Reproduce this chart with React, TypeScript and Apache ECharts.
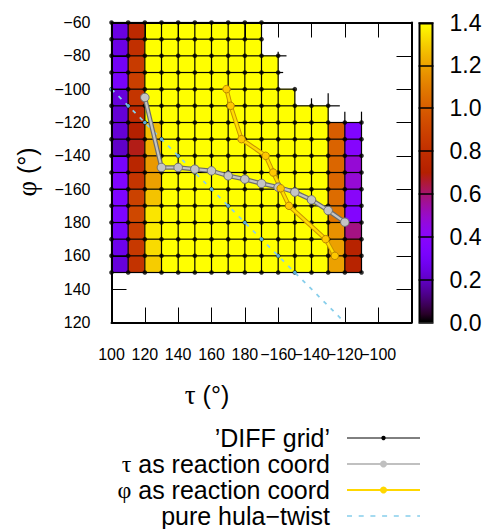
import { useEffect, useRef } from 'react';
import * as echarts from 'echarts';

const FONT = "'Liberation Sans', Arial, Helvetica, sans-serif";
const GREEK = "'Liberation Serif', 'Times New Roman', serif";

// ---- axes (angles unwrapped: tau 200 = -160 deg, phi -190 = 170 deg) ----
const tauAxisMin = 100;
const tauAxisMax = 280;
const phiAxisMin = -240;
const phiAxisMax = -60;
const axisStep = 20;
const cbMin = 0;
const cbMax = 1.4;
const cbStep = 0.2;

// ---- DIFF grid nodes ----
const phiNodes = [-60, -70, -80, -90, -100, -110, -120, -130, -140, -150, -160, -170, -180, -190, -200, -210];
const tauMinNode = 100;
const tauMaxByRow = [190, 190, 200, 200, 210, 230, 250, 250, 250, 250, 250, 250, 250, 250, 250, 250];
const cellSize = 10;
// partial mesh segments toward undefined nodes [tau1, phi1, tau2, phi2]
const gridStubs = [
  [200, -80, 205, -80],
  [200, -90, 203, -90],
  [200, -80, 200, -77.5],
  [230, -110, 237, -110],
  [220, -110, 220, -105.5],
  [230, -110, 230, -102.5],
  [240, -120, 240, -113.5],
  [250, -120, 250, -113.5],
];

// ---- cell values: row i spans phiNodes[i]..phiNodes[i+1], columns tau 100,110,... ----
const cellTau = [100, 110, 120, 130, 140, 150, 160, 170, 180, 190, 200, 210, 220, 230, 240];
const cellValues = [
  [0.24, 0.76, 1.5, 1.5, 1.5, 1.5, 1.5, 1.5, 1.5],
  [0.25, 0.80, 1.5, 1.5, 1.5, 1.5, 1.5, 1.5, 1.5],
  [0.29, 0.86, 1.5, 1.5, 1.5, 1.5, 1.5, 1.5, 1.5, 1.5],
  [0.31, 0.88, 1.5, 1.5, 1.5, 1.5, 1.5, 1.5, 1.5, 1.5],
  [0.23, 0.83, 1.5, 1.5, 1.5, 1.5, 1.5, 1.5, 1.5, 1.5, 1.5],
  [0.22, 0.77, 1.5, 1.5, 1.5, 1.5, 1.5, 1.5, 1.5, 1.5, 1.5, 1.5, 1.5],
  [0.22, 0.70, 1.27, 1.5, 1.5, 1.5, 1.5, 1.5, 1.5, 1.5, 1.5, 1.5, 1.5, 1.00, 0.35],
  [0.20, 0.68, 1.24, 1.5, 1.5, 1.5, 1.5, 1.5, 1.5, 1.5, 1.5, 1.5, 1.5, 1.02, 0.38],
  [0.31, 0.74, 1.18, 1.5, 1.5, 1.5, 1.5, 1.5, 1.5, 1.5, 1.5, 1.5, 1.5, 1.03, 0.48],
  [0.35, 0.83, 1.20, 1.5, 1.5, 1.5, 1.5, 1.5, 1.5, 1.5, 1.5, 1.5, 1.5, 1.03, 0.48],
  [0.34, 0.89, 1.28, 1.5, 1.5, 1.5, 1.5, 1.5, 1.5, 1.5, 1.5, 1.5, 1.5, 1.05, 0.40],
  [0.34, 0.92, 1.35, 1.5, 1.5, 1.5, 1.5, 1.5, 1.5, 1.5, 1.5, 1.5, 1.5, 1.08, 0.37],
  [0.31, 0.88, 1.36, 1.5, 1.5, 1.5, 1.5, 1.5, 1.5, 1.5, 1.5, 1.5, 1.5, 1.16, 0.58],
  [0.26, 0.85, 1.33, 1.5, 1.5, 1.5, 1.5, 1.5, 1.5, 1.5, 1.5, 1.5, 1.5, 1.20, 0.72],
  [0.23, 0.82, 1.30, 1.5, 1.5, 1.5, 1.5, 1.5, 1.5, 1.5, 1.5, 1.5, 1.5, 1.20, 0.72],
];

// ---- paths ----
const tauPathTau = [120, 130, 140, 150, 160, 170, 180, 190, 200, 210, 220, 230, 240];
const tauPathPhi = [-105, -147, -147, -148, -149, -152, -154, -156.6, -158.8, -161.8, -166.4, -172.8, -179.8];
const phiPathTau = [169, 171.5, 178, 192.5, 197, 201.5, 206.5, 228.5, 234];
const phiPathPhi = [-100, -110, -130, -140, -150, -159.5, -170, -190, -200];
const hulaTau = [100, 110, 120, 130, 140, 150, 160, 170, 180, 190, 200, 210, 238];
const hulaPhi = [-100, -110, -120, -130, -140, -150, -160, -170, -180, -190, -200, -210, -238];
const hulaMarked = [true, true, true, true, true, true, true, true, true, true, true, true, false];

const legendLabels = ['’DIFF grid’', '{g|τ} as reaction coord', '{g|φ} as reaction coord', 'pure hula−twist'];

function palette(x: number): string {
  const t = Math.max(0, Math.min(1, x));
  const r = Math.sqrt(t);
  const g = t * t * t;
  const b = Math.max(0, Math.sin(2 * Math.PI * t));
  return `rgb(${Math.round(r * 255)},${Math.round(g * 255)},${Math.round(b * 255)})`;
}

function buildOption() {
  const cells: number[][] = [];
  cellValues.forEach((row, i) => {
    row.forEach((v, j) => cells.push([cellTau[j], phiNodes[i], v]));
  });

  const nodes: number[][] = [];
  const segments: number[][] = [];
  phiNodes.forEach((phi, i) => {
    for (let t = tauMinNode; t <= tauMaxByRow[i]; t += cellSize) {
      nodes.push([t, phi]);
      if (t + cellSize <= tauMaxByRow[i]) segments.push([t, phi, t + cellSize, phi]);
      if (i + 1 < phiNodes.length && t <= tauMaxByRow[i + 1]) segments.push([t, phi, t, phiNodes[i + 1]]);
    }
  });
  gridStubs.forEach((s) => segments.push(s));

  const stops = [];
  for (let k = 0; k <= 40; k++) stops.push({ offset: k / 40, color: palette(1 - k / 40) });

  const xFmt = (v: number) => (v >= tauAxisMax ? '' : v <= 180 ? String(v) : '−' + (360 - v));
  const yFmt = (v: number) => (v > -180 ? '−' + -v : String(v + 360));

  const frameAxis = (extra: any) => ({
    type: 'value',
    gridIndex: 0,
    interval: axisStep,
    z: 10,
    axisLine: { show: true, onZero: false, lineStyle: { color: '#000', width: 2 } },
    axisTick: { show: true, inside: true, length: 15, lineStyle: { color: '#000', width: 1 } },
    splitLine: { show: false },
    ...extra,
  });

  const lbl = { fontSize: 16, fontFamily: FONT, color: '#000' };

  const legendY = [438, 464, 490, 516];
  const legendGraphics: any[] = [];
  legendLabels.forEach((txt, i) => {
    legendGraphics.push({
      type: 'text', x: 330, y: legendY[i],
      style: { text: txt, fontSize: 25, lineHeight: 22, fontFamily: FONT, fill: '#000', align: 'right', verticalAlign: 'middle',
        rich: { g: { fontSize: 24, lineHeight: 22, fontFamily: GREEK, fill: '#000' } } },
    });
  });
  legendGraphics.push(
    { type: 'line', shape: { x1: 347, y1: legendY[0], x2: 420, y2: legendY[0] }, style: { stroke: '#000', lineWidth: 1 } },
    { type: 'circle', shape: { cx: 383.5, cy: legendY[0], r: 2.2 }, style: { fill: '#000' } },
    { type: 'line', shape: { x1: 347, y1: legendY[1], x2: 420, y2: legendY[1] }, style: { stroke: '#c0c0c0', lineWidth: 2 } },
    { type: 'circle', shape: { cx: 383.5, cy: legendY[1], r: 3.5 }, style: { fill: '#c0c0c0' } },
    { type: 'line', shape: { x1: 347, y1: legendY[2], x2: 420, y2: legendY[2] }, style: { stroke: '#ffd700', lineWidth: 2 } },
    { type: 'circle', shape: { cx: 383.5, cy: legendY[2], r: 3.5 }, style: { fill: '#ffd700' } },
    { type: 'line', shape: { x1: 347, y1: legendY[3], x2: 420, y2: legendY[3] }, style: { stroke: '#87ceeb', lineWidth: 1.5, lineDash: [5, 6.7] } },
  );

  return {
    animation: false,
    backgroundColor: '#fff',
    grid: [
      { left: 111.5, top: 22.5, width: 300, height: 300 },
      { left: 418.5, top: 22.5, width: 15, height: 300 },
    ],
    xAxis: [
      frameAxis({ min: tauAxisMin, max: tauAxisMax, position: 'bottom', axisLabel: { ...lbl, margin: 24, formatter: xFmt } }),
      frameAxis({ min: tauAxisMin, max: tauAxisMax, position: 'top', axisLabel: { show: false } }),
      { type: 'category', gridIndex: 1, data: ['cb'], show: false },
    ],
    yAxis: [
      frameAxis({ min: phiAxisMin, max: phiAxisMax, position: 'left', axisLabel: { ...lbl, margin: 21, formatter: yFmt } }),
      frameAxis({ min: phiAxisMin, max: phiAxisMax, position: 'right', axisLabel: { show: false } }),
      {
        type: 'value', gridIndex: 1, min: cbMin, max: cbMax, interval: cbStep, position: 'right', z: 10,
        axisLine: { show: false }, axisTick: { show: false },
        splitLine: { show: true, lineStyle: { color: '#000', width: 1.5 } },
        axisLabel: { fontSize: 23, fontFamily: FONT, color: '#000', margin: 16, formatter: (v: number) => v.toFixed(1) },
      },
    ],
    series: [
      {
        type: 'custom', name: 'cells', xAxisIndex: 0, yAxisIndex: 0, silent: true,
        encode: { x: 0, y: 1 },
        data: cells,
        renderItem: (_p: any, api: any) => {
          const t = api.value(0), p = api.value(1), v = api.value(2);
          const a = api.coord([t, p]);
          const b = api.coord([t + cellSize, p - cellSize]);
          const c = palette(v / cbMax);
          return { type: 'rect', shape: { x: a[0], y: a[1], width: b[0] - a[0], height: b[1] - a[1] }, style: { fill: c, stroke: c, lineWidth: 0.6 } };
        },
      },
      {
        type: 'custom', name: 'DIFF grid', xAxisIndex: 0, yAxisIndex: 0, silent: true,
        encode: { x: [0, 2], y: [1, 3] },
        data: segments,
        renderItem: (_p: any, api: any) => {
          const a = api.coord([api.value(0), api.value(1)]);
          const b = api.coord([api.value(2), api.value(3)]);
          return { type: 'line', shape: { x1: a[0], y1: a[1], x2: b[0], y2: b[1] }, style: { stroke: '#000', lineWidth: 1.2 } };
        },
      },
      {
        type: 'scatter', name: 'DIFF nodes', xAxisIndex: 0, yAxisIndex: 0, silent: true,
        data: nodes, symbol: 'circle', symbolSize: 4.6, itemStyle: { color: '#000' },
      },
      {
        type: 'line', name: 'pure hula−twist', xAxisIndex: 0, yAxisIndex: 0, silent: true,
        data: hulaTau.map((t, i) => (hulaMarked[i] ? [t, hulaPhi[i]] : { value: [t, hulaPhi[i]], symbol: 'none' })),
        symbol: 'circle', symbolSize: 3.6, showAllSymbol: true,
        itemStyle: { color: '#5aaad6' },
        lineStyle: { color: '#87ceeb', width: 1.8, type: [4, 6] },
      },
      {
        type: 'line', name: 'tau-under', xAxisIndex: 0, yAxisIndex: 0, silent: true,
        data: tauPathTau.map((t, i) => [t, tauPathPhi[i]]), symbol: 'none',
        lineStyle: { color: '#6c6c6c', width: 4.6 },
      },
      {
        type: 'line', name: 'τ as reaction coord', xAxisIndex: 0, yAxisIndex: 0, silent: true,
        data: tauPathTau.map((t, i) => [t, tauPathPhi[i]]), symbol: 'circle', symbolSize: 8.5, showAllSymbol: true,
        lineStyle: { color: '#c4c4c4', width: 2.2 },
        itemStyle: { color: '#c4c4c4', borderColor: '#6c6c6c', borderWidth: 1 },
      },
      {
        type: 'line', name: 'phi-under', xAxisIndex: 0, yAxisIndex: 0, silent: true,
        data: phiPathTau.map((t, i) => [t, phiPathPhi[i]]), symbol: 'none',
        lineStyle: { color: '#c89200', width: 4.4 },
      },
      {
        type: 'line', name: 'φ as reaction coord', xAxisIndex: 0, yAxisIndex: 0, silent: true,
        data: phiPathTau.map((t, i) => [t, phiPathPhi[i]]), symbol: 'circle', symbolSize: 7.5, showAllSymbol: true,
        lineStyle: { color: '#ffdc00', width: 2.4 },
        itemStyle: { color: '#ffc800', borderColor: '#b88400', borderWidth: 1 },
      },
      {
        type: 'bar', name: 'colorbar', xAxisIndex: 2, yAxisIndex: 2, silent: true,
        data: [cbMax], barWidth: '100%',
        itemStyle: { color: new echarts.graphic.LinearGradient(0, 0, 0, 1, stops), borderColor: '#000', borderWidth: 2 },
      },
    ],
    graphic: [
      {
        type: 'text', x: 207, y: 395,
        style: { text: '{g|τ} (°)', fontSize: 25, fontFamily: FONT, fill: '#000', align: 'center', verticalAlign: 'middle',
          rich: { g: { fontSize: 27, fontFamily: GREEK, fill: '#000' } } },
      },
      {
        type: 'text', x: 27, y: 172, rotation: Math.PI / 2,
        style: { text: '{g|φ} (°)', fontSize: 25, fontFamily: FONT, fill: '#000', align: 'center', verticalAlign: 'middle',
          rich: { g: { fontSize: 27, fontFamily: GREEK, fill: '#000' } } },
      },
      ...legendGraphics,
    ],
  };
}

export default function App() {
  const ref = useRef<HTMLDivElement>(null);
  useEffect(() => {
    if (!ref.current) return;
    const chart = echarts.init(ref.current, null, { renderer: 'svg' });
    chart.setOption(buildOption() as any);
    return () => chart.dispose();
  }, []);
  return (
    <div
      ref={ref}
      style={{ position: 'fixed', left: 0, top: 0, width: 489, height: 529, background: '#fff' }}
    />
  );
}
